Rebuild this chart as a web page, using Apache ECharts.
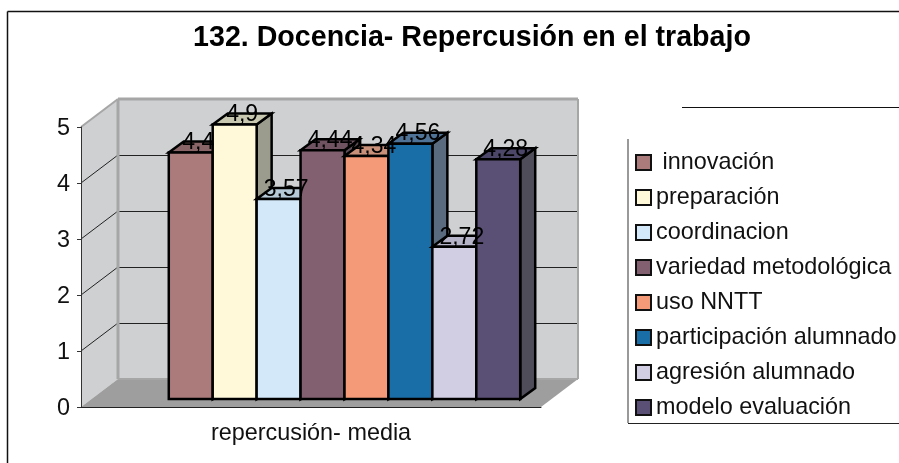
<!DOCTYPE html>
<html>
<head>
<meta charset="utf-8">
<style>
  html, body { margin: 0; padding: 0; background: #fff; }
  #chart { width: 899px; height: 463px; }
</style>
</head>
<body>
<div id="chart"></div>
<script src="https://cdn.jsdelivr.net/npm/echarts@6/dist/echarts.min.js"></script>
<script>
var categories = ['repercusión- media'];
var names = [' innovación', 'preparación', 'coordinacion', 'variedad metodológica', 'uso NNTT', 'participación alumnado', 'agresión alumnado', 'modelo evaluación'];
var values = [4.4, 4.9, 3.57, 4.44, 4.34, 4.56, 2.72, 4.28];
var yTicks = [0, 1, 2, 3, 4, 5];

var frontColors = ['#ab7b7c', '#fff9da', '#d3e8f8', '#82606f', '#f49a78', '#1a6ea7', '#d1cee4', '#5a4f74'];
var topColors = ['#896567', '#c8c8b0', '#b5c9d6', '#6f5361', '#c89078', '#4f7396', '#b5b3c8', '#4c4668'];
var sideColors = ['#6e5a5c', '#9b9b8e', '#8f9ca6', '#5c4c55', '#a07c6c', '#5a6b80', '#8e8da0', '#4f4d59'];

var font = '"Liberation Sans", Arial, sans-serif';
// depth of the box and of the bars, in px
var wallDX = 37, wallDY = 28;
var barDX = 15, barDY = 11;
var barLift = 8, barShift = 33.5, barRatio = 0.0955;

function poly(points, fill, stroke, width) {
  return {
    type: 'polygon',
    shape: { points: points },
    style: { fill: fill, stroke: stroke || null, lineWidth: width || 0, lineJoin: 'miter' }
  };
}

function line(x1, y1, x2, y2, color, width) {
  return {
    type: 'line',
    shape: { x1: x1, y1: y1, x2: x2, y2: y2 },
    style: { stroke: color, lineWidth: width }
  };
}

// walls, floor and gridlines behind the bars
function renderWalls(params, api) {
  var w = api.size([1, 0])[0];
  var o = api.coord([0, 0]);
  var t = api.coord([0, 5]);
  var x0 = o[0] - w / 2;
  var kids = [];
  kids.push(poly([[x0 + wallDX, t[1] - wallDY], [x0 + w + wallDX, t[1] - wallDY], [x0 + w + wallDX, o[1] - wallDY], [x0 + wallDX, o[1] - wallDY]], '#cfd0d2'));
  kids.push(poly([[x0, t[1]], [x0 + wallDX, t[1] - wallDY], [x0 + wallDX, o[1] - wallDY], [x0, o[1]]], '#cfd0d2'));
  kids.push(poly([[x0, o[1]], [x0 + w, o[1]], [x0 + w + wallDX, o[1] - wallDY], [x0 + wallDX, o[1] - wallDY]], '#9e9e9e'));
  yTicks.forEach(function (v) {
    if (v === 0 || v === 5) return;
    var p = api.coord([0, v]);
    kids.push(line(x0, p[1], x0 + wallDX, p[1] - wallDY, '#222', 1));
    kids.push(line(x0 + wallDX, p[1] - wallDY + 0.5, x0 + w + wallDX, p[1] - wallDY + 0.5, '#222', 1));
  });
  kids.push(line(x0, t[1], x0 + wallDX, t[1] - wallDY, '#a6a6a6', 2));
  kids.push(line(x0 + wallDX, t[1] - wallDY, x0 + w + wallDX, t[1] - wallDY, '#a6a6a6', 3));
  kids.push(line(x0 + wallDX, t[1] - wallDY, x0 + wallDX, o[1] - wallDY, '#a6a6a6', 3));
  kids.push(line(x0 + w + wallDX, t[1] - wallDY, x0 + w + wallDX, o[1] - wallDY, '#a6a6a6', 2));
  kids.push(line(x0 + wallDX, o[1] - wallDY, x0 + w + wallDX, o[1] - wallDY, '#a6a6a6', 2));
  return { type: 'group', children: kids };
}

function renderBar(i) {
  return function (params, api) {
    var v = api.value(1);
    var base = api.coord([api.value(0), 0]);
    var top = api.coord([api.value(0), v]);
    var band = api.size([1, 0])[0];
    var bw = band * barRatio;
    var x1 = base[0] + barShift + (i - 4) * bw;
    var x2 = x1 + bw;
    var y1 = top[1] - barLift;
    var y2 = base[1] - barLift;
    return {
      type: 'group',
      children: [
        poly([[x2, y1], [x2 + barDX, y1 - barDY], [x2 + barDX, y2 - barDY], [x2, y2]], sideColors[i], '#000', 2.5),
        poly([[x1, y1], [x1 + barDX, y1 - barDY], [x2 + barDX, y1 - barDY], [x2, y1]], topColors[i], '#000', 2.5),
        poly([[x1, y1], [x2, y1], [x2, y2], [x1, y2]], frontColors[i], '#000', 2.5),
        {
          type: 'text',
          z2: 100,
          style: {
            x: (x1 + x2) / 2 + 7.5,
            y: y1 + 2,
            text: String(v).replace('.', ','),
            fill: '#000',
            font: '23px ' + font,
            textAlign: 'center',
            textVerticalAlign: 'bottom'
          }
        }
      ]
    };
  };
}

var series = [{
  name: 'fondo',
  type: 'custom',
  z: 1,
  silent: true,
  renderItem: renderWalls,
  encode: { x: 0, y: 1 },
  data: [[0, 0]]
}];

names.forEach(function (name, i) {
  series.push({
    name: name,
    type: 'custom',
    z: 2,
    renderItem: renderBar(i),
    itemStyle: { color: frontColors[i] },
    encode: { x: 0, y: 1 },
    data: [[0, values[i]]]
  });
});

var chart = echarts.init(document.getElementById('chart'));
chart.setOption({
  animation: false,
  backgroundColor: '#fff',
  title: {
    text: '132. Docencia- Repercusión en el trabajo',
    left: 467,
    top: 19,
    textAlign: 'center',
    textStyle: { fontFamily: font, fontSize: 28.6, fontWeight: 'bold', color: '#000' }
  },
  legend: {
    data: names,
    orient: 'vertical',
    left: 630,
    top: 146,
    icon: 'rect',
    itemWidth: 15,
    itemHeight: 15,
    itemGap: 12,
    itemStyle: { borderColor: '#111', borderWidth: 2 },
    textStyle: { fontFamily: font, fontSize: 23.4, color: '#111', padding: [0, 0, 0, 0], height: 22, lineHeight: 22 }
  },
  grid: { left: 81, right: 358, top: 127, bottom: 56 },
  xAxis: {
    type: 'category',
    data: categories,
    z: 10,
    axisLine: { lineStyle: { color: '#222', width: 1 } },
    axisTick: { length: 6, lineStyle: { color: '#222' } },
    axisLabel: { fontFamily: font, fontSize: 23.4, color: '#111', margin: 15 }
  },
  yAxis: {
    type: 'value',
    min: 0,
    max: 5,
    interval: 1,
    z: 10,
    splitLine: { show: false },
    axisLine: { show: true, lineStyle: { color: '#333', width: 1 } },
    axisTick: { show: true, length: 4, lineStyle: { color: '#333' } },
    axisLabel: { fontFamily: font, fontSize: 23.4, color: '#111', margin: 11, verticalAlign: 'top', lineHeight: 4 }
  },
  series: series,
  graphic: [
    { type: 'line', silent: true, shape: { x1: 7.5, y1: 11.5, x2: 899, y2: 11.5 }, style: { stroke: '#111', lineWidth: 1.5 } },
    { type: 'line', silent: true, shape: { x1: 7.5, y1: 11.5, x2: 7.5, y2: 463 }, style: { stroke: '#111', lineWidth: 1.5 } },
    { type: 'line', silent: true, shape: { x1: 682, y1: 107.5, x2: 899, y2: 107.5 }, style: { stroke: '#111', lineWidth: 1 } },
    { type: 'line', silent: true, shape: { x1: 628, y1: 139, x2: 628, y2: 423 }, style: { stroke: '#777', lineWidth: 1.5 } },
    { type: 'line', silent: true, shape: { x1: 628, y1: 423.5, x2: 899, y2: 423.5 }, style: { stroke: '#222', lineWidth: 1 } }
  ]
});
</script>
</body>
</html>
